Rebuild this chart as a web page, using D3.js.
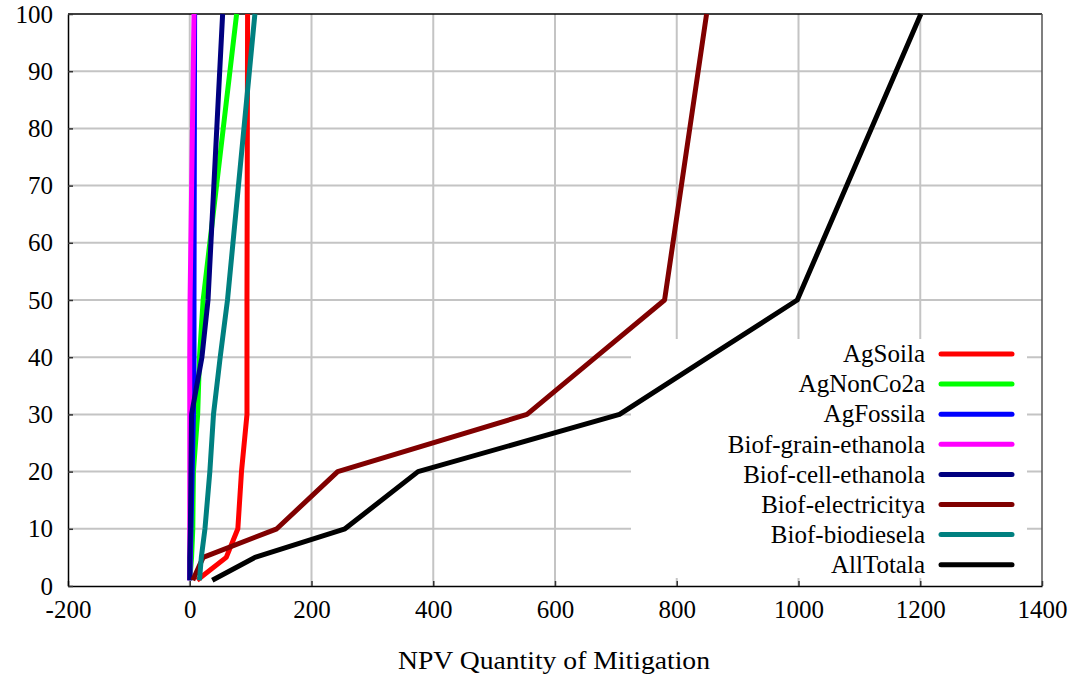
<!DOCTYPE html>
<html>
<head>
<meta charset="utf-8">
<script src="https://cdn.jsdelivr.net/npm/d3@7"></script>
<style>
  body { margin: 0; background: #fff; }
  svg text { font-family: "Liberation Serif", "Times New Roman", "DejaVu Serif", serif; fill: #000; }
</style>
</head>
<body>
<svg id="chart" width="1074" height="677"></svg>
<script>
// carbon price levels (y) and mitigation quantity per sector (x)
var priceLevels = [1, 5, 10, 20, 30, 40, 50, 100];
var agSoil = [12, 60, 79, 85, 94, 94, 94, 95];
var agNonCo2 = [0, 3, 5, 6, 13, 16, 22, 77];
var agFossil = [0, 1, 2, 4, 6, 7, 7, 8];
var grainEthanol = [0, 0, 0, 0, 0, 0, 0.5, 7];
var cellEthanol = [0, 0, 1, 2, 3, 20, 30, 54];
var electricity = [5, 22, 143, 243, 554, 667, 780, 849];
var biodiesel = [16, 19, 25, 33, 39, 50, 62, 107];
var allTotal = [37, 107, 255, 375, 706, 852, 998, 1201];

var seriesNames = ["AgSoila", "AgNonCo2a", "AgFossila", "Biof-grain-ethanola",
    "Biof-cell-ethanola", "Biof-electricitya", "Biof-biodiesela", "AllTotala"];
var seriesValues = [agSoil, agNonCo2, agFossil, grainEthanol, cellEthanol, electricity, biodiesel, allTotal];
var colors = ["#ff0000", "#00ff00", "#0000ff", "#ff00ff", "#000080", "#800000", "#008080", "#000000"];

var xTicks = [-200, 0, 200, 400, 600, 800, 1000, 1200, 1400];
var yTicks = [0, 10, 20, 30, 40, 50, 60, 70, 80, 90, 100];

var LEFT = 68, RIGHT = 1042, TOP = 14, BOTTOM = 586;
var FONT = "'Liberation Serif', 'Times New Roman', 'DejaVu Serif', serif";

var svg = d3.select("#chart");
var x = d3.scaleLinear().domain([-200, 1400]).range([LEFT, RIGHT]);
var y = d3.scaleLinear().domain([0, 100]).range([BOTTOM, TOP]);

// grid
var grid = svg.append("g").attr("class", "grid");
grid.selectAll(".vgrid")
    .data(xTicks.slice(1, -1))
    .enter().append("line")
    .attr("x1", d => x(d)).attr("x2", d => x(d))
    .attr("y1", TOP).attr("y2", BOTTOM)
    .style("stroke", "#c4c4c4").style("stroke-width", 2);
grid.selectAll(".hgrid")
    .data(yTicks.slice(1, -1))
    .enter().append("line")
    .attr("x1", LEFT).attr("x2", RIGHT)
    .attr("y1", d => y(d)).attr("y2", d => y(d))
    .style("stroke", "#c4c4c4").style("stroke-width", 2);

// white legend area hides the grid
svg.append("rect")
    .attr("x", 631).attr("y", 339)
    .attr("width", 396).attr("height", 239)
    .style("fill", "#fff");

// frame
svg.append("line").attr("x1", LEFT).attr("x2", RIGHT).attr("y1", TOP).attr("y2", TOP)
    .style("stroke", "#000").style("stroke-width", 1.5);
svg.append("line").attr("x1", RIGHT).attr("x2", RIGHT).attr("y1", TOP).attr("y2", BOTTOM)
    .style("stroke", "#555").style("stroke-width", 1.5);

// axes with inward ticks
var xAxis = svg.append("g")
    .attr("transform", "translate(0," + BOTTOM + ")")
    .call(d3.axisBottom(x).tickValues(xTicks).tickFormat(d => String(d))
        .tickSize(-5).tickPadding(13).tickSizeOuter(0));
var yAxis = svg.append("g")
    .attr("transform", "translate(" + LEFT + ",0)")
    .call(d3.axisLeft(y).tickValues(yTicks).tickFormat(d => String(d))
        .tickSize(-5).tickPadding(15).tickSizeOuter(0));
[xAxis, yAxis].forEach(function(a) {
    a.attr("font-family", FONT).attr("font-size", 25);
    a.select(".domain").style("stroke", "#000").style("stroke-width", 1.5);
    a.selectAll(".tick line").style("stroke", "#333").style("stroke-width", 1.5);
    a.selectAll("text").style("font-size", "25px").style("font-family", FONT);
});
xAxis.selectAll("text").attr("dy", "0.75em");

// lines
var line = d3.line()
    .x(d => x(d[0]))
    .y(d => y(d[1]));
var lines = svg.append("g").attr("class", "lines");
seriesValues.forEach(function(vals, i) {
    var pts = vals.map((v, j) => [v, priceLevels[j]]);
    lines.append("path")
        .datum(pts)
        .attr("d", line)
        .style("fill", "none")
        .style("stroke", colors[i])
        .style("stroke-width", 5)
        .style("stroke-linejoin", "round");
});

// legend
var legend = svg.append("g").attr("class", "legend");
seriesNames.forEach(function(name, i) {
    var ly = 354 + i * 30.1;
    legend.append("text")
        .attr("x", 925).attr("y", ly)
        .attr("dy", "0.33em")
        .attr("text-anchor", "end")
        .style("font-family", FONT)
        .style("font-size", "25px")
        .text(name);
    legend.append("line")
        .attr("x1", 941).attr("x2", 1012)
        .attr("y1", ly).attr("y2", ly)
        .style("stroke", colors[i])
        .style("stroke-width", 5)
        .style("stroke-linecap", "round");
});

// axis title
svg.append("text")
    .attr("x", 554).attr("y", 669)
    .attr("text-anchor", "middle")
    .attr("textLength", 312)
    .attr("lengthAdjust", "spacingAndGlyphs")
    .style("font-family", FONT)
    .style("font-size", "25px")
    .text("NPV Quantity of Mitigation");
</script>
</body>
</html>
